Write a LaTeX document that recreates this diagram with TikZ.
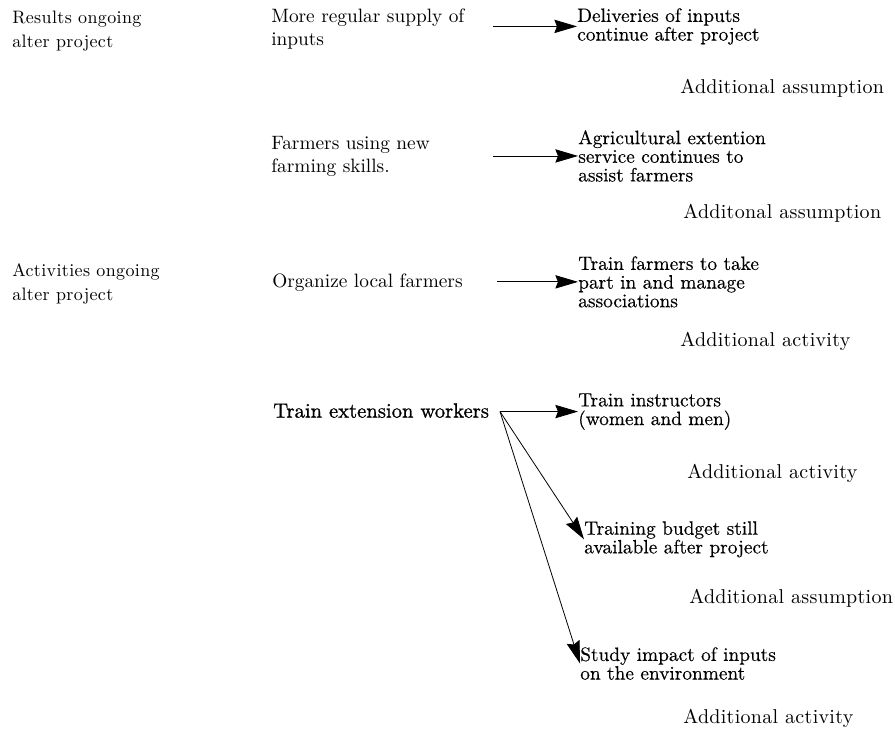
\documentclass[tikz,border=0pt]{standalone}
\usepackage{fontspec}
\setmainfont{lmroman10-regular.otf}
\usetikzlibrary{arrows.meta}

\tikzset{
  lab/.style={anchor=north west, inner sep=0pt, align=left, font=\fontsize{13.5}{18}\selectfont\addfontfeature{LetterSpace=2}},
  act/.style={anchor=north west, inner sep=0pt, align=left, font=\fontsize{14.5}{17}\selectfont},
  res/.style={anchor=north west, inner sep=0pt, align=left, font=\fontsize{14.5}{14}\selectfont\addfontfeature{FakeBold=0.3}},
  add/.style={anchor=north west, inner sep=0pt, font=\fontsize{15}{17}\selectfont\addfontfeature{LetterSpace=1.5}},
  link/.style={-{Stealth[length=17pt,width=10pt,inset=2pt]}, line width=0.6pt}
}

\begin{document}
\begin{tikzpicture}[x=0.75pt, y=-0.75pt]
  \useasboundingbox (0,0) rectangle (895,733);
  % left column
  \node[lab] (L1) at (12,11) {Results ongoing\\alter project};
  \node[lab] (L2) at (12,263) {Activities ongoing\\alter project};
  % middle column
  \node[act] (M1) at (271,9) {More regular supply of\\inputs};
  \node[act] (M2) at (271,136) {Farmers using new\\farming skills.};
  \node[act] (M3) at (272,274) {Organize local farmers};
  \node[act, font=\fontsize{15.5}{17}\selectfont\addfontfeature{FakeBold=1}] (M4) at (273,403) {Train extension workers};
  % right column
  \node[res] (R1) at (577,8) {Deliveries of inputs\\continue after project};
  \node[res] (R2) at (578,130) {Agricultural extention\\service continues to\\assist farmers};
  \node[res] (R3) at (578,256) {Train farmers to take\\part in and manage\\associations};
  \node[res] (R4) at (578,393) {Train instructors\\(women and men)};
  \node[res] (R5) at (584,521) {Training budget still\\available after project};
  \node[res] (R6) at (580,647) {Study impact of inputs\\on the environment};
  % notes
  \node[add] (N1) at (680,79) {Additional assumption};
  \node[add] (N2) at (683,204) {Additonal assumption};
  \node[add] (N3) at (680,332) {Additional activity};
  \node[add] (N4) at (687,464) {Additional activity};
  \node[add] (N5) at (689,589) {Additional assumption};
  \node[add] (N6) at (683,709) {Additional activity};
  % arrows
  \coordinate (t1) at (493,0);
  \coordinate (t2) at (493,0);
  \coordinate (t3) at (497,0);
  \coordinate (t4) at (500,0);
  \coordinate (F) at (t4 |- R4.west);
  \draw[link] (t1 |- R1.west) -- (R1.west);
  \draw[link] (t2 |- R2.west) -- (R2.west);
  \draw[link] (t3 |- R3.west) -- (R3.west);
  \draw[link] (F) -- (R4.west);
  \draw[link] (F) -- (R5.west);
  \draw[link] (F) -- (R6.west);
\end{tikzpicture}
\end{document}
